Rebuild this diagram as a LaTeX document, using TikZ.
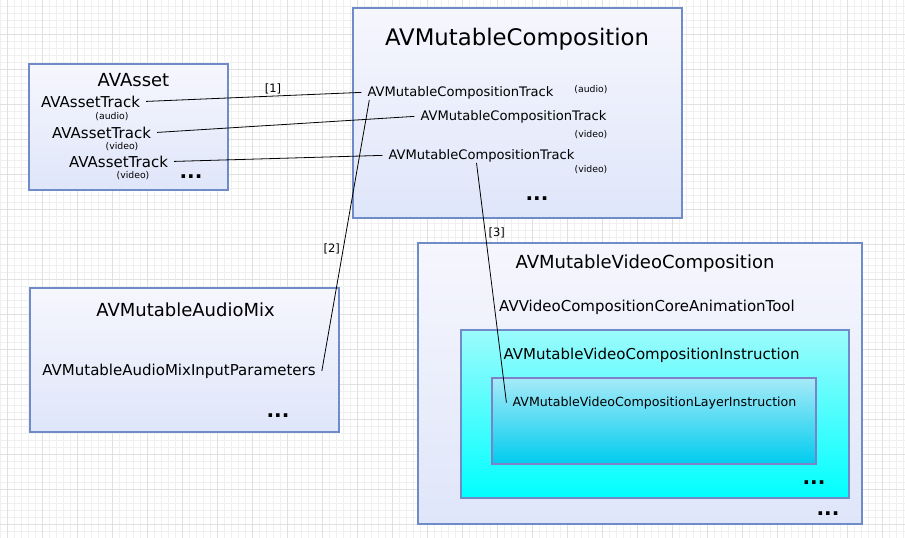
\documentclass[tikz,border=0pt]{standalone}
\usepackage{fontspec}
\setmainfont{DejaVu Sans}
\usepackage{tikz}
\definecolor{gridmin}{HTML}{F0F0F0}
\definecolor{gridmaj}{HTML}{E0E0E0}
\definecolor{boxline}{HTML}{6F8BC8}
\definecolor{boxtop}{HTML}{F6F6FD}
\definecolor{boxbot}{HTML}{DFE6FA}
\definecolor{instrtop}{HTML}{9CFBFC}
\definecolor{instrbot}{HTML}{00FFFF}
\definecolor{layertop}{HTML}{A6EAF8}
\definecolor{layerbot}{HTML}{00CCEE}
\definecolor{layerline}{HTML}{8080C8}
\tikzstyle{box} = [draw=boxline, line width=2.4pt,
    top color=boxtop, bottom color=boxbot]
\tikzstyle{title} = [anchor=base, inner sep=0pt, font=\fontsize{18}{20}\selectfont]
\tikzstyle{item} = [anchor=base, inner xsep=6pt, inner ysep=1pt,
    font=\fontsize{15}{17}\selectfont]
\tikzstyle{track} = [item, font=\fontsize{13.1}{15}\selectfont]
\tikzstyle{kind} = [anchor=base, inner sep=0pt, font=\fontsize{9.3}{10}\selectfont]
\tikzstyle{dots} = [anchor=base, inner sep=0pt, font=\fontsize{20}{22}\bfseries]
\tikzstyle{tag} = [inner sep=1pt, font=\fontsize{11.5}{13}\selectfont]
\tikzset{link/.style={line width=0.8pt, black}}

\begin{document}
\begin{tikzpicture}[x=1pt,y=-1pt]
    \useasboundingbox (0,0) rectangle (905,538);
    %background grid
    \foreach \x in {0,7,...,903}
    {\draw[gridmin, line width=0.7pt] (\x,0) -- (\x,538);}
    \foreach \y in {6,13,...,538}
    {\draw[gridmin, line width=0.7pt] (0,\y) -- (905,\y);}
    \foreach \x in {7,42,...,903}
    {\draw[gridmaj, line width=0.7pt] (\x,0) -- (\x,538);}
    \foreach \y in {34,69,...,538}
    {\draw[gridmaj, line width=0.7pt] (0,\y) -- (905,\y);}
    %boxes
    \draw[box] (29,64) rectangle (228,190);     %asset
    \draw[box] (353,8) rectangle (682,218);     %composition
    \draw[box] (30,288) rectangle (339,432);    %audio mix
    \draw[box] (418,243) rectangle (862,524);   %video composition
    \draw[box, top color=instrtop, bottom color=instrbot]
        (461,330) rectangle (849,498);
    \draw[box, draw=layerline, top color=layertop, bottom color=layerbot]
        (492,378) rectangle (816,464);
    %AVAsset
    \node[title] (asset) at (133.5,86) {AVAsset};
    \node[item] (at1) at (90.5,107) {AVAssetTrack};
    \node[kind] (k1) at (112,119) {(audio)};
    \node[item] (at2) at (101.5,138) {AVAssetTrack};
    \node[kind] (k2) at (122,149) {(video)};
    \node[item] (at3) at (118.5,167) {AVAssetTrack};
    \node[kind] (k3) at (133,178) {(video)};
    \node[dots] (assetdots) at (191,178) {...};
    %AVMutableComposition
    \node[title, font=\fontsize{22.8}{26}\selectfont] (comp) at (517,45)
        {AVMutableComposition};
    \node[track] (mct1) at (460.5,96) {AVMutableCompositionTrack};
    \node[kind] (mk1) at (591,92) {(audio)};
    \node[track] (mct2) at (513.5,120) {AVMutableCompositionTrack};
    \node[kind] (mk2) at (591,137) {(video)};
    \node[track] (mct3) at (481.5,159) {AVMutableCompositionTrack};
    \node[kind] (mk3) at (591,172) {(video)};
    \node[dots] (compdots) at (537,200) {...};
    %AVMutableAudioMix
    \node[title] (mix) at (185.5,316) {AVMutableAudioMix};
    \node[item] (mixin) at (179,375) {AVMutableAudioMixInputParameters};
    \node[dots] (mixdots) at (278,417) {...};
    %AVMutableVideoComposition
    \node[title] (vcomp) at (645,268) {AVMutableVideoComposition};
    \node[item] (tool) at (647,311) {AVVideoCompositionCoreAnimationTool};
    \node[item] (instr) at (651.5,359) {AVMutableVideoCompositionInstruction};
    \node[item, font=\fontsize{12.6}{14}\selectfont] (layer) at (654.5,406)
        {AVMutableVideoCompositionLayerInstruction};
    \node[dots] (instrdots) at (814,484) {...};
    \node[dots] (vcdots) at (828,515) {...};
    %connectors
    \draw[link] (at1.east) -- node[tag, pos=0.59, above=1pt] {[1]} (mct1.west);
    \draw[link] (at2.east) -- (mct2.west);
    \draw[link] (at3.east) -- (mct3.west);
    \draw[link] ([xshift=8pt]mct1.south west)
        -- node[tag, pos=0.55, left=2pt] {[2]} (mixin.east);
    \draw[link] ([xshift=-5pt]mct3.south)
        -- node[tag, pos=0.29, right=2pt] {[3]} (layer.west);
\end{tikzpicture}
\end{document}
